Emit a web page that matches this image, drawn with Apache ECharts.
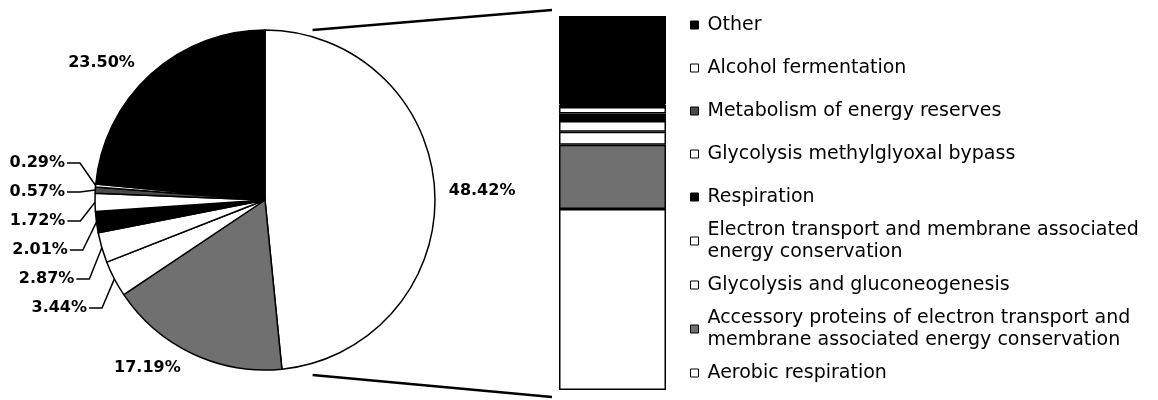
<!DOCTYPE html>
<html><head><meta charset="utf-8">
<script src="https://cdn.jsdelivr.net/npm/echarts@6/dist/echarts.min.js"></script>
<style>html,body{margin:0;padding:0;background:#fff}#c{width:1158px;height:400px}</style>
</head><body><div id="c"></div>
<script>
// ---- data ----
const categories = [
  'Aerobic respiration',
  'Accessory proteins of electron transport and\nmembrane associated energy conservation',
  'Glycolysis and gluconeogenesis',
  'Electron transport and membrane associated\nenergy conservation',
  'Respiration',
  'Glycolysis methylglyoxal bypass',
  'Metabolism of energy reserves',
  'Alcohol fermentation',
  'Other'
];
const percentages = [48.42, 17.19, 3.44, 2.87, 2.01, 1.72, 0.57, 0.29, 23.50];
const legendOrder = categories.slice().reverse();

// ---- styles / layout ----
const fillColors = ['#ffffff', '#707070', '#ffffff', '#ffffff', '#000000', '#ffffff', '#4a4a4a', '#ffffff', '#000000'];
const PIE_CX = 265, PIE_CY = 200, PIE_R = 170;
const BAR_LEFT = 559, BAR_TOP = 16, BAR_W = 107, BAR_H = 374;
const LABEL_TOP = 163, LABEL_STEP = 29, LABEL_RIGHT = 65, LABEL_FLAT_Y = 191, LABEL_BULGE = 22;
const total = percentages.reduce((a, b) => a + b, 0);
const smallIdx = percentages.map((v, i) => i).filter(i => percentages[i] < 10);

const chart = echarts.init(document.getElementById('c'), null, {renderer: 'canvas'});

const pieSeries = {
  type: 'pie',
  center: [PIE_CX, PIE_CY],
  radius: PIE_R,
  startAngle: 90,
  clockwise: true,
  silent: true,
  avoidLabelOverlap: true,
  itemStyle: {borderColor: '#000', borderWidth: 1.5},
  label: {
    show: true, position: 'outside',
    formatter: p => p.value.toFixed(2) + '%',
    fontFamily: 'DejaVu Sans', fontWeight: 'bold', fontSize: 16, color: '#000'
  },
  labelLine: {show: true, length: 8, length2: 14, smooth: false, lineStyle: {color: '#000', width: 1.5}},
  labelLayout: function (p) {
    const k = smallIdx.indexOf(p.dataIndex);
    if (k < 0) return {};
    const rank = smallIdx.length - 1 - k;
    const y = LABEL_TOP + rank * LABEL_STEP;
    const yMax = LABEL_TOP + (smallIdx.length - 1) * LABEL_STEP;
    const t = Math.max(0, (y - LABEL_FLAT_Y) / (yMax - LABEL_FLAT_Y));
    const xr = LABEL_RIGHT + LABEL_BULGE * t * t * t;
    const a = (p.labelLinePoints && p.labelLinePoints[0]) || [xr + 20, y];
    return {
      x: xr, y: y, align: 'right', verticalAlign: 'middle',
      labelLinePoints: [[a[0], a[1]], [xr + 15, y], [xr + 2, y]]
    };
  },
  emphasis: {disabled: true},
  data: categories.map((n, i) => {
    const item = {name: n, value: percentages[i], itemStyle: {color: fillColors[i]}};
    if (percentages[i] >= 10) item.labelLine = {show: false, length: percentages[i] > 40 ? 9 : 16, length2: 0};
    return item;
  })
};

const barSeries = categories.map((n, i) => ({
  type: 'bar',
  name: n,
  stack: 'all',
  barWidth: '100%',
  silent: true,
  data: [percentages[i]],
  itemStyle: {color: fillColors[i], borderColor: '#000', borderWidth: 1.5}
}));

chart.setOption({
  animation: false,
  backgroundColor: '#fff',
  grid: {left: BAR_LEFT, top: BAR_TOP, width: BAR_W, height: BAR_H},
  xAxis: {type: 'category', data: [''], show: false},
  yAxis: {type: 'value', min: 0, max: total, show: false},
  legend: {
    orient: 'vertical', left: 690, top: 4, padding: 0, itemGap: 1,
    itemWidth: 8, itemHeight: 8, icon: 'rect', selectedMode: false,
    itemStyle: {borderColor: '#000', borderWidth: 1},
    textStyle: {fontFamily: 'DejaVu Sans', fontSize: 19, color: '#000', padding: [0, 0, 0, 4]},
    data: legendOrder.map(n => ({name: n, textStyle: {lineHeight: n.indexOf('\n') >= 0 ? 22 : 42}}))
  },
  graphic: [
    {type: 'line', silent: true, shape: {x1: PIE_CX + PIE_R * 0.28, y1: PIE_CY - PIE_R, x2: BAR_LEFT - 7, y2: BAR_TOP - 6}, style: {stroke: '#000', lineWidth: 2.5}},
    {type: 'line', silent: true, shape: {x1: PIE_CX + PIE_R * 0.28, y1: PIE_CY + PIE_R + 5, x2: BAR_LEFT - 7, y2: BAR_TOP + BAR_H + 7}, style: {stroke: '#000', lineWidth: 2.5}}
  ],
  series: [pieSeries].concat(barSeries)
});
</script></body></html>
